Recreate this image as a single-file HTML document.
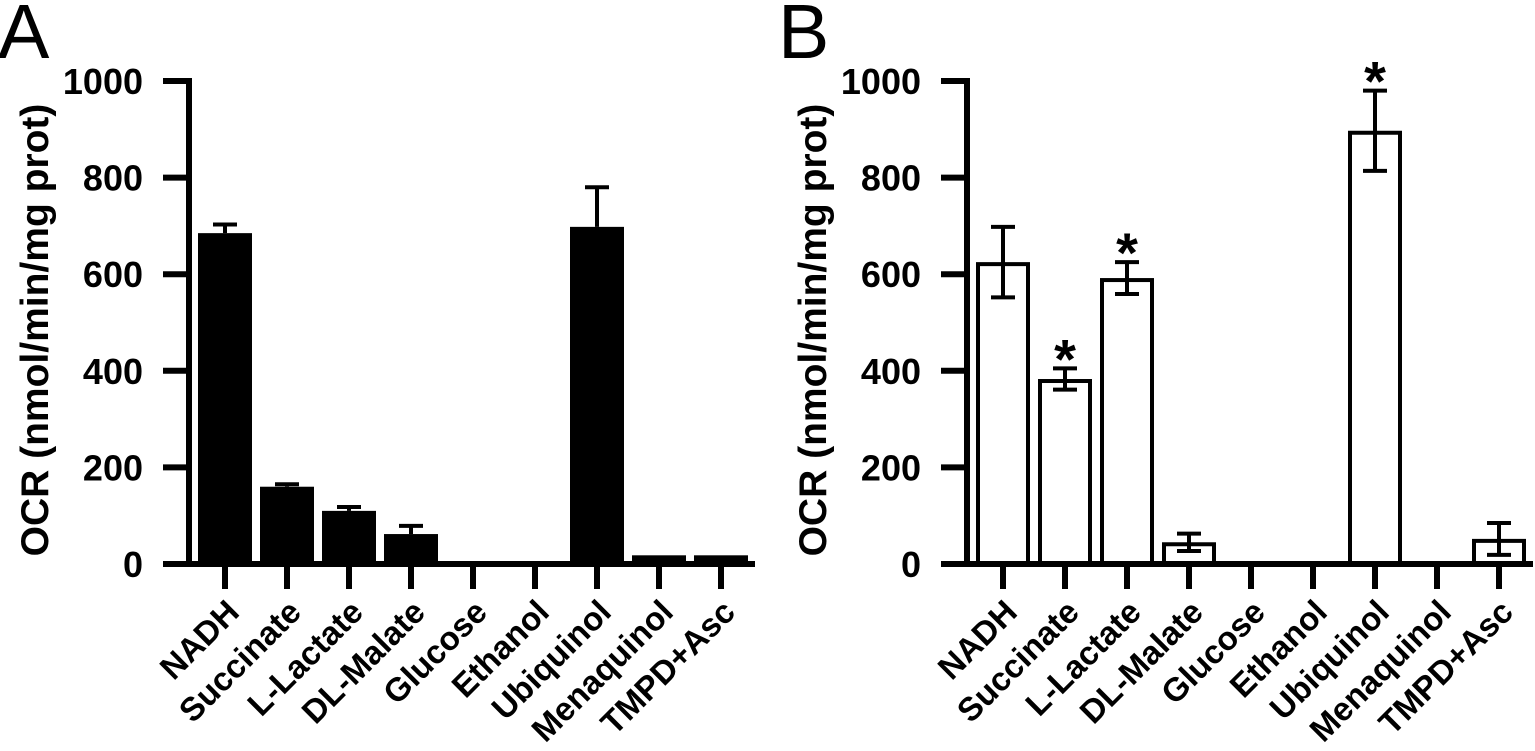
<!DOCTYPE html>
<html><head><meta charset="utf-8"><style>
html,body{margin:0;padding:0;background:#fff;}
svg text{font-family:"Liberation Sans",Arial,sans-serif;font-weight:bold;fill:#000;}
</style></head><body>
<svg id="chart" width="1535" height="746" viewBox="0 0 1535 746" xmlns="http://www.w3.org/2000/svg">
<text x="-2" y="58" style="font-size:77px;font-weight:normal">A</text>
<text x="778" y="58" style="font-size:77px;font-weight:normal">B</text>
</svg>
<script>
const categories = ["NADH","Succinate","L-Lactate","DL-Malate","Glucose","Ethanol","Ubiquinol","Menaquinol","TMPD+Asc"];
const valuesA = [685,160,110,62,0,0,698,18,18];
const errorsA = [18,5,8,17,0,0,82,0,0];
const valuesB = [625,383,592,45,0,0,897,0,52];
const errorsB = [73,22,33,18,0,0,83,0,33];
const starsB = [false,true,true,false,false,false,true,false,false];
const yTicks = [0,200,400,600,800,1000];

const svg = document.getElementById('chart');
const NS = 'http://www.w3.org/2000/svg';
function mk(tag, attrs, parent){
  const e = document.createElementNS(NS, tag);
  for (const k in attrs) e.setAttribute(k, attrs[k]);
  (parent||svg).appendChild(e);
  return e;
}
const Y0 = 564, YPX = 0.483;
function yScale(v){ return Y0 - v*YPX; }

function panel(axisX, firstTick, vals, errs, filled, stars, key){
  const g = mk('g', {});
  
  
  const xScale = i => firstTick + i*62;
  const endX = xScale(categories.length-1) + 34;
  categories.forEach((c,i)=>{
    const v = vals[i]; if (v <= 0) return;
    const cx = xScale(i), w = 54;
    const top = yScale(v);
    let r;
    if (filled) {
      r = mk('rect', {x: cx-w/2, y: top, width: w, height: Y0-top, fill:'#000'}, g);
    } else {
      r = mk('rect', {x: cx-w/2+2, y: top+2, width: w-4, height: Y0-top-2, fill:'#fff', stroke:'#000', 'stroke-width':4}, g);
    }
    
    
    const e = errs[i];
    if (e > 0) {
      const eg = mk('g', {stroke:'#000','stroke-width':4,fill:'none'}, g);
      
      
      const yt = yScale(v+e), yb = filled ? top : yScale(v-e);
      mk('line', {x1:cx, x2:cx, y1:yt, y2:yb}, eg);
      mk('line', {x1:cx-12, x2:cx+12, y1:yt, y2:yt}, eg);
      if (!filled) mk('line', {x1:cx-12, x2:cx+12, y1:yb, y2:yb}, eg);
    }
    if (stars && stars[i]) {
      const s = mk('text', {x:cx, y:yScale(v+e)+10, 'text-anchor':'middle', style:'font-size:56px'}, g);
      s.textContent = '*';
      
      
    }
  });
  const ax = mk('g', {stroke:'#000', 'stroke-width':6, fill:'none'}, g);
  
  
  mk('line', {x1:axisX, x2:axisX, y1:yScale(1000)-3, y2:Y0+3}, ax);
  mk('line', {x1:axisX-26, x2:endX, y1:Y0, y2:Y0}, ax);
  yTicks.forEach(t=>{
    mk('line', {x1:axisX-26, x2:axisX, y1:yScale(t), y2:yScale(t)}, ax);
    const tl = mk('text', {x:axisX-46, y:yScale(t)+13, 'text-anchor':'end', style:'font-size:36px'}, g);
    tl.textContent = t;
    
    
  });
  categories.forEach((c,i)=>{
    const x = xScale(i);
    mk('line', {x1:x, x2:x, y1:Y0, y2:589}, ax);
    const ax0 = x+16, ay0 = 614;
    const t = mk('text', {x:ax0, y:ay0, 'text-anchor':'end', transform:`rotate(-45 ${ax0} ${ay0})`, style:'font-size:33px'}, g);
    t.textContent = c;
    
    
  });
  const tx = axisX - 141, ty = 330;
  const title = mk('text', {x:tx, y:ty, 'text-anchor':'middle', transform:`rotate(-90 ${tx} ${ty})`, style:'font-size:39px'}, g);
  title.textContent = 'OCR (nmol/min/mg prot)';
  
  
}
panel(189, 225, valuesA, errorsA, true, null, 'a');
panel(967, 1003, valuesB, errorsB, false, starsB, 'b');
</script>
</body></html>
